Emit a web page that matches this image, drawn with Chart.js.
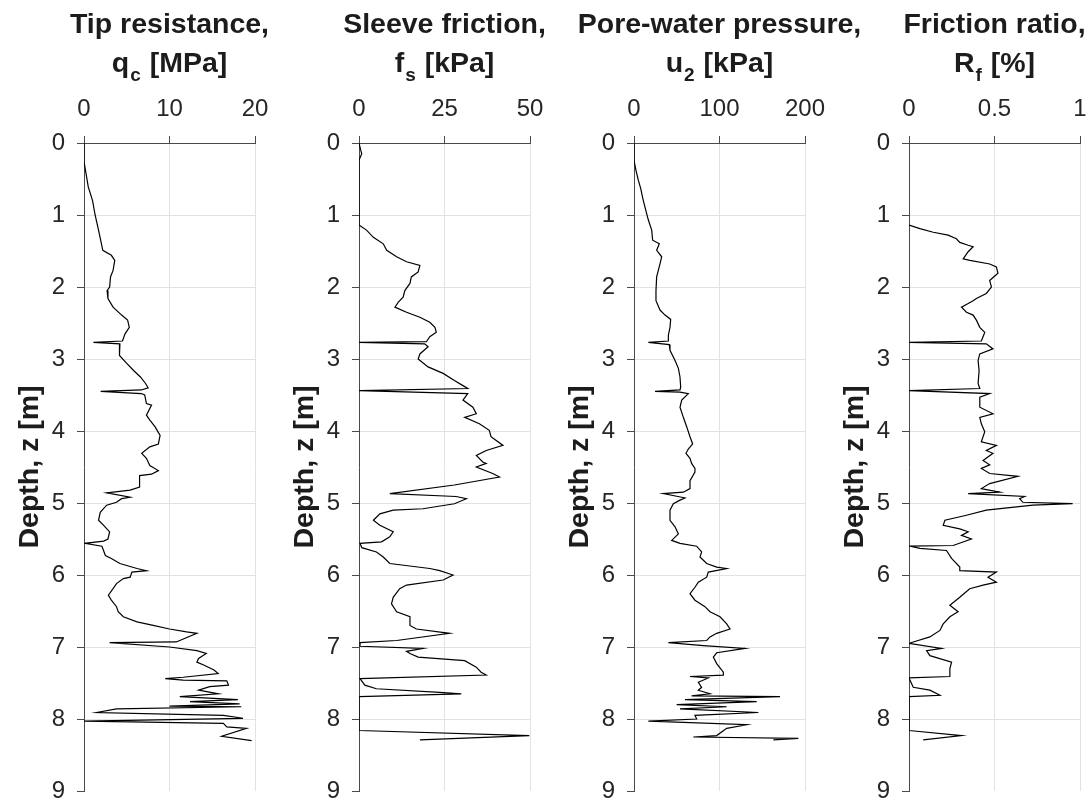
<!DOCTYPE html>
<html><head><meta charset="utf-8">
<script src="https://cdn.jsdelivr.net/npm/chart.js@4/dist/chart.umd.min.js"></script>
<style>
html,body{margin:0;padding:0;background:#fff;}
#wrap{position:relative;width:1091px;height:806px;background:#fff;}
#wrap canvas{position:absolute;left:0;top:0;}
</style></head><body>
<div id="wrap">
<canvas id="c0" width="1091" height="806"></canvas>
<canvas id="c1" width="1091" height="806"></canvas>
<canvas id="c2" width="1091" height="806"></canvas>
<canvas id="c3" width="1091" height="806"></canvas>
</div>
<script>
// ---------- DATA ----------
const depthTicks = [0,1,2,3,4,5,6,7,8,9];
const qcTicks = [0,10,20];
const fsTicks = [0,25,50];
const u2Ticks = [0,100,200];
const rfTicks = [0,0.5,1];

const qcDepth = [0,0.26,0.61,0.80,1.0,1.21,1.49,1.56,1.63,1.77,1.86,2.0,2.05,2.16,2.28,2.39,2.46,2.56,2.65,2.75,2.77,2.79,2.88,2.95,3.06,3.16,3.25,3.34,3.40,3.43,3.45,3.48,3.50,3.62,3.64,3.78,3.85,3.94,4.06,4.18,4.22,4.31,4.38,4.48,4.55,4.60,4.62,4.78,4.82,4.86,4.92,4.94,4.99,5.03,5.13,5.24,5.31,5.40,5.50,5.53,5.56,5.60,5.73,5.77,5.84,5.91,5.94,5.96,6.03,6.05,6.12,6.19,6.28,6.35,6.44,6.51,6.58,6.65,6.70,6.75,6.79,6.81,6.91,6.93,6.94,7.0,7.05,7.09,7.16,7.21,7.25,7.32,7.37,7.42,7.44,7.46,7.47,7.53,7.55,7.60,7.65,7.69,7.73,7.76,7.79,7.82,7.83,7.86,7.91,7.95,7.99,8.03,8.06,8.11,8.13,8.24,8.30];
const qc = [0,0,0.5,1.0,1.3,1.7,2.2,3.2,3.6,3.4,3.1,3.0,2.7,2.8,3.4,4.4,5.1,5.3,4.8,4.5,1.1,4.2,4.1,4.2,5.0,5.8,6.6,7.2,7.5,6.7,1.95,6.7,7.1,7.3,7.9,7.3,7.7,8.3,8.9,8.7,7.7,6.75,7.3,7.7,8.7,7.9,6.5,6.5,5.4,2.65,5.4,4.4,3.8,2.65,1.9,1.7,2.3,3.0,2.8,2.3,0.1,2.1,2.5,3.2,4.2,6.2,7.3,5.6,5.4,4.6,3.8,3.4,2.85,3.2,3.8,4.0,4.6,6.2,8.1,10.0,12.0,13.2,11.2,10.8,3.0,10.0,13.2,14.3,13.4,13.2,14.0,15.2,15.7,11.6,9.5,11.6,16.7,16.9,14.7,13.4,15.7,11.2,18.0,12.4,18.2,10.0,18.4,3.8,1.5,16.3,18.6,0,16.3,16.7,19.0,16.1,19.6];

const fsDepth = [0,0.1,0.15,0.24,1.14,1.21,1.31,1.40,1.49,1.58,1.65,1.70,1.79,1.86,1.95,2.05,2.14,2.21,2.28,2.35,2.42,2.49,2.56,2.63,2.69,2.76,2.77,2.79,2.83,2.93,3.0,3.11,3.20,3.30,3.37,3.41,3.44,3.48,3.57,3.67,3.76,3.81,3.90,3.99,4.08,4.20,4.27,4.34,4.43,4.45,4.50,4.59,4.64,4.75,4.87,4.91,4.94,5.01,5.08,5.10,5.15,5.24,5.31,5.40,5.47,5.54,5.56,5.62,5.68,5.75,5.84,5.91,5.94,6.0,6.07,6.14,6.19,6.31,6.40,6.51,6.58,6.70,6.75,6.81,6.91,6.94,6.99,7.02,7.06,7.09,7.14,7.19,7.28,7.35,7.39,7.44,7.53,7.58,7.63,7.65,7.69,8.16,8.23,8.29];
const fs = [0,0.5,0.8,0,0,2.2,4.2,7.1,8.1,11.0,13.9,17.8,17.3,15.3,14.9,13.4,12.9,11.5,10.5,13.9,17.8,20.7,22.2,22.6,20.7,19.7,0,19.2,20.2,17.8,17.3,20.2,24.6,27.9,30.4,31.8,0,31.8,30.4,33.3,34.3,30.9,35.2,38.1,38.6,42.1,37.2,34.3,36.2,37.2,34.3,39.1,41.1,27.9,9.0,28.4,31.4,27.9,18.7,10.0,6.1,4.2,6.1,10.0,9.0,6.6,0.3,0.8,5.1,7.1,9.0,20.7,23.6,27.5,24.6,13.9,11.9,10.0,9.5,11.0,14.9,14.9,16.8,26.5,11.0,0.3,0.3,18.7,13.9,14.9,17.3,30.9,34.3,35.7,37.2,0.3,1.7,5.1,23.6,29.9,0,0,49.8,17.8];

const u2Depth = [0,0.24,0.38,0.52,0.63,0.80,0.98,1.07,1.21,1.35,1.40,1.49,1.58,1.68,1.86,2.05,2.19,2.32,2.39,2.45,2.56,2.67,2.75,2.77,2.80,2.88,3.02,3.13,3.25,3.39,3.43,3.45,3.46,3.48,3.57,3.67,3.81,3.94,4.08,4.18,4.25,4.31,4.38,4.45,4.52,4.57,4.69,4.80,4.85,4.87,4.92,4.93,4.96,5.01,5.10,5.24,5.33,5.43,5.52,5.56,5.60,5.68,5.75,5.84,5.89,5.91,5.96,6.03,6.10,6.17,6.26,6.35,6.44,6.51,6.58,6.68,6.75,6.81,6.86,6.91,6.94,6.98,7.02,7.08,7.14,7.23,7.35,7.39,7.41,7.43,7.49,7.56,7.60,7.65,7.68,7.69,7.73,7.76,7.80,7.83,7.86,7.91,7.95,8.0,8.03,8.08,8.13,8.23,8.25,8.27,8.29];
const u2 = [0,0,2.3,5.1,7.8,10.9,14.8,16.8,20.7,21.8,29.6,26.5,32.4,30.4,26.5,25.7,25.7,30.4,36.3,42.9,42.1,40.2,40.2,16.8,41.3,42.1,48.0,51.9,53.8,54.6,53.8,24.6,53.8,63.5,55.8,53.8,57.7,61.6,65.5,68.6,63.5,60.8,65.5,67.4,71.3,71.3,65.5,65.5,57.7,34.3,55.8,59.6,53.8,46.0,42.1,42.1,48.0,51.9,44.1,53.8,73.3,79.1,77.2,85.0,96.7,108.4,86.9,85.0,75.2,71.3,65.5,71.3,83.0,88.9,100.6,108.4,112.3,96.7,88.9,85.0,40.2,81.1,129.8,96.7,92.8,96.7,104.5,104.5,65.5,86.9,75.2,79.1,75.2,88.9,67.4,170.8,59.6,143.5,49.9,108.4,53.8,145.4,71.3,73.3,16.8,131.8,108.4,96.7,69.4,192.2,163.0];

const rfDepth = [1.14,1.19,1.24,1.28,1.33,1.38,1.42,1.44,1.51,1.61,1.63,1.68,1.72,1.81,1.91,2.0,2.09,2.16,2.19,2.23,2.28,2.35,2.39,2.46,2.56,2.63,2.69,2.75,2.77,2.79,2.86,2.93,3.02,3.16,3.34,3.41,3.44,3.48,3.53,3.67,3.76,3.81,3.90,4.01,4.15,4.20,4.27,4.31,4.41,4.47,4.52,4.59,4.63,4.73,4.80,4.85,4.87,4.91,4.94,4.99,5.01,5.03,5.10,5.17,5.24,5.31,5.36,5.40,5.45,5.50,5.59,5.60,5.63,5.66,5.77,5.89,5.94,5.96,6.03,6.10,6.14,6.19,6.31,6.42,6.51,6.58,6.68,6.77,6.86,6.93,6.95,7.02,7.05,7.12,7.21,7.30,7.41,7.43,7.56,7.60,7.67,7.69,8.16,8.23,8.29];
const rf = [0,0.064,0.142,0.229,0.277,0.297,0.346,0.375,0.346,0.317,0.356,0.472,0.511,0.520,0.472,0.482,0.452,0.394,0.375,0.346,0.307,0.336,0.375,0.394,0.414,0.443,0.433,0.423,0,0.452,0.491,0.414,0.404,0.410,0.404,0.414,0,0.472,0.414,0.414,0.491,0.414,0.423,0.443,0.423,0.511,0.452,0.491,0.433,0.472,0.423,0.472,0.637,0.472,0.423,0.530,0.346,0.676,0.647,0.666,0.957,0.724,0.452,0.336,0.210,0.200,0.297,0.346,0.307,0.365,0.258,0.006,0.064,0.219,0.249,0.297,0.297,0.511,0.462,0.511,0.433,0.355,0.297,0.239,0.287,0.239,0.200,0.181,0.122,0.025,0,0.190,0.103,0.122,0.249,0.239,0.239,0,0.025,0.122,0.181,0,0,0.307,0.083];

const titleLine1 = ['Tip resistance,', 'Sleeve friction,', 'Pore-water pressure,', 'Friction ratio,'];
const titleSymbol = ['q', 'f', 'u', 'R'];
const titleSub = ['c', 's', '2', 'f'];
const titleUnit = [' [MPa]', ' [kPa]', ' [kPa]', ' [%]'];
const yAxisTitle = 'Depth, z [m]';

// ---------- CHART ----------
const FONT = '"Liberation Sans", Arial, Helvetica, sans-serif';
const TXT = '#262626';
const AXIS = '#4a4a4a';
const GRID = '#e2e2e2';

const panelTitlePlugin = {
  id: 'panelTitle',
  afterDraw(chart, args, o) {
    const ctx = chart.ctx, ca = chart.chartArea;
    const cx = (ca.left + ca.right) / 2;
    const mainF = 'bold 28.5px ' + FONT, subF = 'bold 19px ' + FONT;
    ctx.save();
    ctx.fillStyle = '#1c1c1c';
    ctx.textBaseline = 'alphabetic';
    ctx.font = mainF;
    ctx.textAlign = 'center';
    ctx.fillText(o.line1, cx, 33);
    ctx.textAlign = 'left';
    const w1 = ctx.measureText(o.sym).width;
    const w3 = ctx.measureText(o.unit).width;
    ctx.font = subF;
    const w2 = ctx.measureText(o.sub).width;
    let x = cx - (w1 + w2 + 2 + w3) / 2;
    ctx.font = mainF; ctx.fillText(o.sym, x, 72); x += w1 + 1;
    ctx.font = subF; ctx.fillText(o.sub, x, 81); x += w2 + 1;
    ctx.font = mainF; ctx.fillText(o.unit, x, 72);
    ctx.restore();
  }
};

const panels = [
  {d: qcDepth, v: qc, ticks: qcTicks},
  {d: fsDepth, v: fs, ticks: fsTicks},
  {d: u2Depth, v: u2, ticks: u2Ticks},
  {d: rfDepth, v: rf, ticks: rfTicks}
];

const PLOT_L = 84, STEP = 275, PLOT_W = 171, PLOT_T = 143, PLOT_B = 791, XH = 50, YW = 84;

panels.forEach((p, k) => {
  const left = PLOT_L + STEP * k;
  const pts = p.d.map((dep, i) => ({x: p.v[i], y: dep}));
  const xmin = p.ticks[0], xmax = p.ticks[p.ticks.length - 1];
  new Chart(document.getElementById('c' + k), {
    type: 'scatter',
    data: { datasets: [{
      data: pts, showLine: true, borderColor: '#000', borderWidth: 1.2,
      pointRadius: 0, pointHoverRadius: 0, tension: 0, fill: false
    }]},
    options: {
      responsive: false, animation: false, events: [],
      layout: { padding: { left: left - YW, right: 1091 - (left + PLOT_W), top: PLOT_T - XH, bottom: 806 - PLOT_B } },
      plugins: {
        legend: { display: false }, tooltip: { enabled: false },
        panelTitle: { line1: titleLine1[k], sym: titleSymbol[k], sub: titleSub[k], unit: titleUnit[k] }
      },
      scales: {
        x: {
          type: 'linear', position: 'top', min: xmin, max: xmax,
          afterBuildTicks: (s) => { s.ticks = p.ticks.map(v => ({value: v})); },
          afterFit: (s) => { s.height = XH; s.paddingLeft = 0; s.paddingRight = 0; },
          ticks: { color: TXT, font: { family: FONT, size: 24 }, padding: 12, maxRotation: 0, autoSkip: false,
                   callback: (v) => String(v) },
          grid: { color: GRID, lineWidth: 1, tickLength: 7, tickColor: AXIS, drawTicks: true },
          border: { display: true, color: AXIS, width: 1 }
        },
        y: {
          type: 'linear', position: 'left', reverse: true, min: 0, max: 9,
          afterBuildTicks: (s) => { s.ticks = depthTicks.map(v => ({value: v})); },
          afterFit: (s) => { s.width = YW; s.paddingTop = 0; s.paddingBottom = 0; },
          ticks: { color: TXT, font: { family: FONT, size: 24 }, padding: 12, autoSkip: false,
                   callback: (v) => String(v) },
          grid: { color: (c) => (c.tick && c.tick.value === 9) ? 'rgba(0,0,0,0)' : GRID,
                  lineWidth: 1, tickLength: 7, tickColor: AXIS, drawTicks: true },
          border: { display: true, color: AXIS, width: 1 },
          title: { display: true, text: yAxisTitle, color: '#1c1c1c',
                   font: { family: FONT, size: 28.5, weight: 'bold' }, padding: { top: 13, bottom: 0 } }
        }
      }
    },
    plugins: [panelTitlePlugin]
  });
});
</script>
</body></html>
